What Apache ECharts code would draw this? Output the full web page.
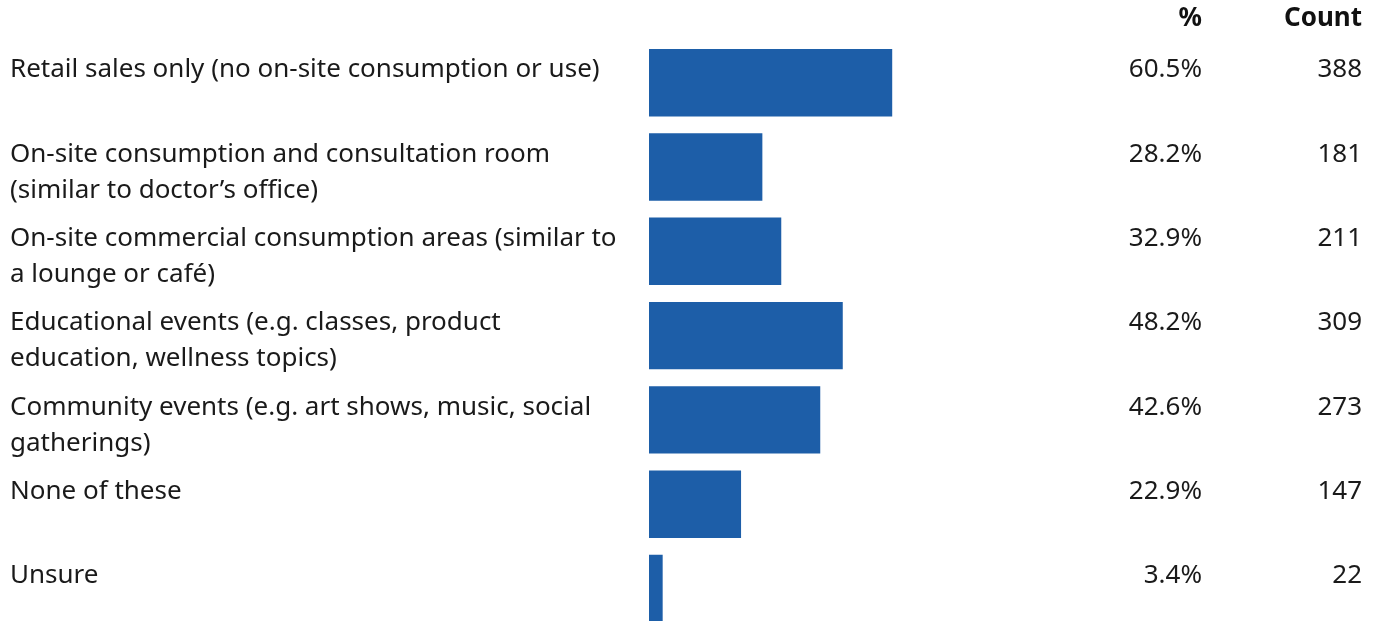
<!DOCTYPE html>
<html>
<head>
<meta charset="utf-8">
<script src="https://cdn.jsdelivr.net/npm/echarts@6/dist/echarts.min.js"></script>
<style>
  html, body { margin: 0; padding: 0; background: #fff; overflow: hidden; }
  /* taller than the window: the last bar runs off the bottom edge */
  #chart { width: 1375px; height: 640px; }
</style>
</head>
<body>
<div id="chart"></div>
<script>
// data
const categories = [
    'Retail sales only (no on-site consumption or use)',
    'On-site consumption and consultation room\n(similar to doctor\u2019s office)',
    'On-site commercial consumption areas (similar to\na lounge or caf\u00e9)',
    'Educational events (e.g. classes, product\neducation, wellness topics)',
    'Community events (e.g. art shows, music, social\ngatherings)',
    'None of these',
    'Unsure'
];
const percents = [60.5, 28.2, 32.9, 48.2, 42.6, 22.9, 3.4];
const counts = [388, 181, 211, 309, 273, 147, 22];

const FONT = '"Noto Sans", Roboto, sans-serif';
const BLUE = '#1d5ea8';
const GRID_LEFT = 649;

const chart = echarts.init(document.getElementById('chart'));

// shared label look, text hangs from the top of each bar
const labelBase = {
    show: true,
    fontFamily: FONT,
    fontSize: 26,
    lineHeight: 36,
    color: '#1a1a1a',
    verticalAlign: 'top'
};

chart.setOption({
    backgroundColor: '#fff',
    animation: false,
    graphic: [
        { type: 'text', right: 1375 - 1202, top: 6,
          style: { text: '%', font: 'bold 26px ' + FONT, fill: '#111' } },
        { type: 'text', right: 1375 - 1362, top: 6,
          style: { text: 'Count', font: 'bold 26px ' + FONT, fill: '#111' } }
    ],
    grid: { left: GRID_LEFT, top: 40.6, width: 402, height: 590, containLabel: false },
    xAxis: {
        type: 'value', min: 0, max: 100, show: false
    },
    yAxis: {
        type: 'category', data: categories, inverse: true, show: false
    },
    series: [
        {
            // bars + category text at far left
            type: 'bar',
            data: percents,
            barCategoryGap: '20%',
            itemStyle: { color: BLUE },
            label: Object.assign({}, labelBase, {
                position: [10 - GRID_LEFT, 3],
                align: 'left',
                formatter: p => categories[p.dataIndex]
            })
        },
        {
            // percent column
            type: 'bar',
            data: percents,
            barGap: '-100%',
            barCategoryGap: '20%',
            itemStyle: { color: 'rgba(0,0,0,0)' },
            label: Object.assign({}, labelBase, {
                position: [1202 - GRID_LEFT, 3],
                align: 'right',
                formatter: p => p.value.toFixed(1) + '%'
            })
        },
        {
            // count column
            type: 'bar',
            data: percents,
            barGap: '-100%',
            barCategoryGap: '20%',
            itemStyle: { color: 'rgba(0,0,0,0)' },
            label: Object.assign({}, labelBase, {
                position: [1362 - GRID_LEFT, 3],
                align: 'right',
                formatter: p => String(counts[p.dataIndex])
            })
        }
    ]
});
</script>
</body>
</html>
